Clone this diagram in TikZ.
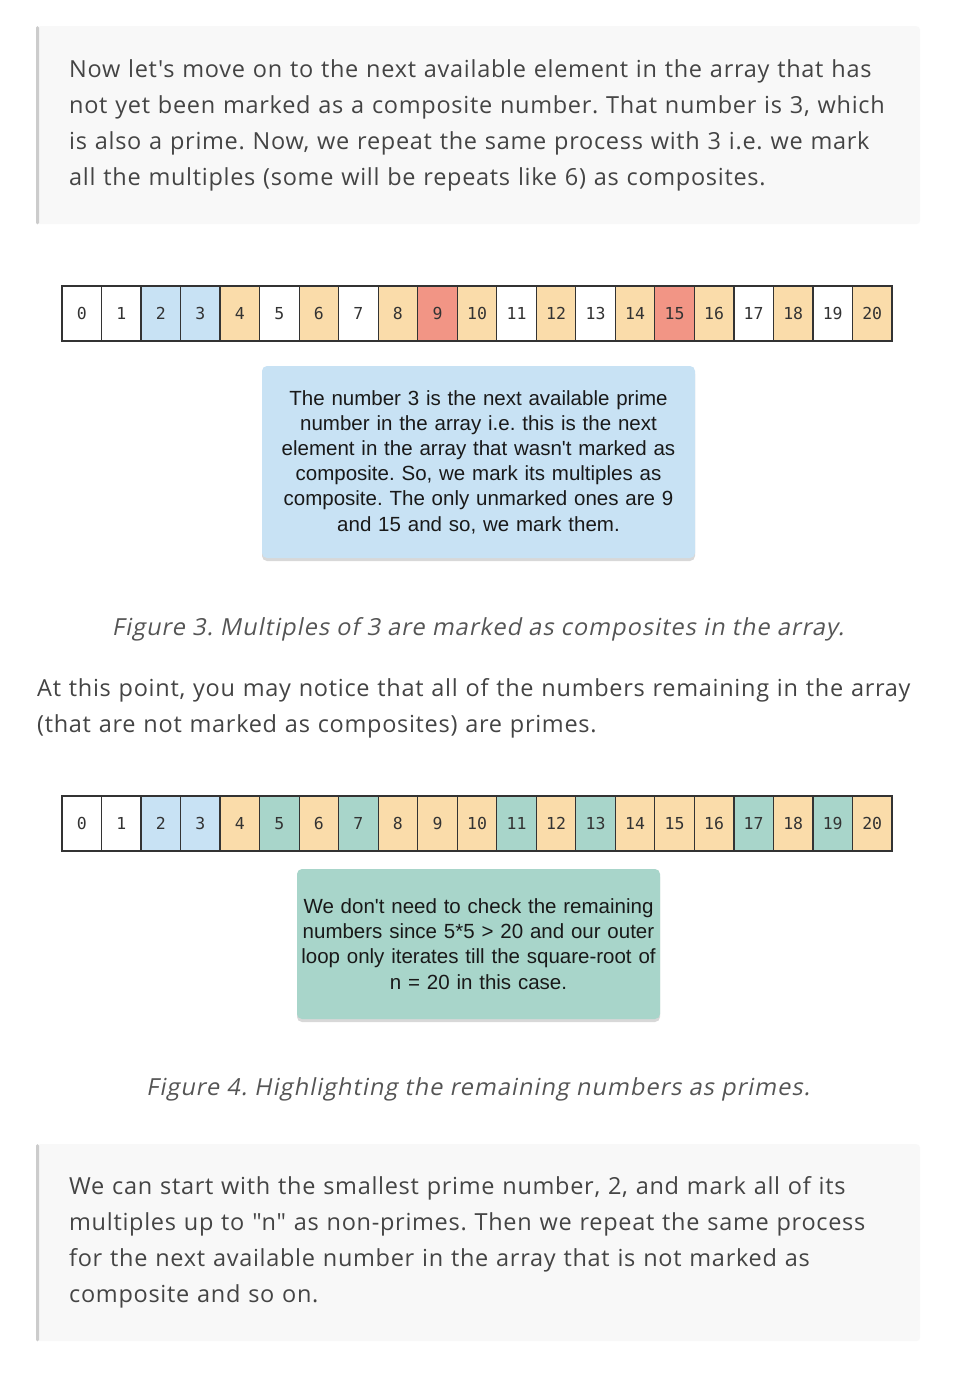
\documentclass[tikz,border=0pt]{standalone}
\usepackage{fontspec}
\newfontfamily\bodyfont{Open Sans}[LetterSpace=3]
\newfontfamily\captfont{Open Sans}[FakeSlant=0.2, LetterSpace=4.5]
\newfontfamily\boxfont{Liberation Sans}
\newfontfamily\cellfont{DejaVu Sans Mono}
\usetikzlibrary{shadows}
\definecolor{bodytext}{HTML}{444444}
\definecolor{captext}{HTML}{555555}
\definecolor{quotebg}{HTML}{F8F8F8}
\definecolor{quotebar}{HTML}{CCCCCC}
\definecolor{cellline}{HTML}{333333}
\definecolor{cblue}{HTML}{C8E2F4}
\definecolor{corange}{HTML}{FADCAA}
\definecolor{cred}{HTML}{F29585}
\definecolor{cteal}{HTML}{A8D5CA}
\frenchspacing

\begin{document}
\begin{tikzpicture}[x=1pt, y=-1pt,
  cell/.style={draw=cellline, line width=1.2pt, minimum width=39.52pt, minimum height=55pt, inner sep=0pt, text=black!80, font=\cellfont\fontsize{16.5}{18}\selectfont},
  quotebox/.style={fill=quotebg, rounded corners=4pt, anchor=north west, minimum width=884pt, minimum height=198pt, inner xsep=33pt, text width=818pt, align=left, text=bodytext, font=\bodyfont\fontsize{23.5}{36}\selectfont},
  notebox/.style={rounded corners=5pt, inner xsep=2pt, align=center, text=black!90, font=\boxfont\fontsize{20.5}{25.2}\selectfont, drop shadow={shadow xshift=0pt, shadow yshift=-3pt, opacity=.3, fill=black!50}},
  capt/.style={anchor=base, inner sep=0pt, text=captext, font=\captfont\fontsize{23.5}{36}\selectfont}]
\useasboundingbox[fill=white] (0,0) rectangle (958,1374);

% first quote
\node[quotebox] (quoteA) at (36,26) {Now let's move on to the next available element in the array that has\\ not yet been marked as a composite number. That number is 3, which\\ is also a prime. Now, we repeat the same process with 3 i.e. we mark\\ all the multiples (some will be repeats like 6) as composites.};
\fill[quotebar, rounded corners=1.5pt] (quoteA.north west) rectangle ([xshift=3pt]quoteA.south west);

% array after marking multiples of 3
\foreach \i/\c in {0/white,1/white,2/cblue,3/cblue,4/corange,5/white,6/corange,7/white,8/corange,9/cred,10/corange,11/white,12/corange,13/white,14/corange,15/cred,16/corange,17/white,18/corange,19/white,20/corange}
  \node[cell, fill=\c] (a\i) at ({81.76+39.524*\i},313.5) {\i};

\node[notebox, fill=cblue, minimum width=433pt, minimum height=192pt, text width=429pt] (noteA) at (478.5,462) {The number 3 is the next available prime\\ number in the array i.e. this is the next\\ element in the array that wasn't marked as\\ composite. So, we mark its multiples as\\ composite. The only unmarked ones are 9\\ and 15 and so, we mark them.};

\node[capt] (captA) at (478,635) {Figure 3. Multiples of 3 are marked as composites in the array.};

\node[anchor=base west, inner sep=0pt, text width=915pt, align=left, text=bodytext, font=\bodyfont\fontsize{23.5}{36}\selectfont] (para) at (37,696) {At this point, you may notice that all of the numbers remaining in the array\\ (that are not marked as composites) are primes.};

% array with the primes highlighted
\foreach \i/\c in {0/white,1/white,2/cblue,3/cblue,4/corange,5/cteal,6/corange,7/cteal,8/corange,9/corange,10/corange,11/cteal,12/corange,13/cteal,14/corange,15/corange,16/corange,17/cteal,18/corange,19/cteal,20/corange}
  \node[cell, fill=\c] (b\i) at ({81.76+39.524*\i},823.5) {\i};

\node[notebox, fill=cteal, minimum width=363pt, minimum height=150pt, text width=359pt] (noteB) at (478.5,944) {We don't need to check the remaining\\ numbers since 5*5 > 20 and our outer\\ loop only iterates till the square-root of\\ n = 20 in this case.};

\node[capt] (captB) at (478,1095) {Figure 4. Highlighting the remaining numbers as primes.};

% second quote
\node[quotebox, minimum height=197pt] (quoteB) at (36,1144) {We can start with the smallest prime number, 2, and mark all of its\\ multiples up to "n" as non-primes. Then we repeat the same process\\ for the next available number in the array that is not marked as\\ composite and so on.};
\fill[quotebar, rounded corners=1.5pt] (quoteB.north west) rectangle ([xshift=3pt]quoteB.south west);
\end{tikzpicture}
\end{document}
